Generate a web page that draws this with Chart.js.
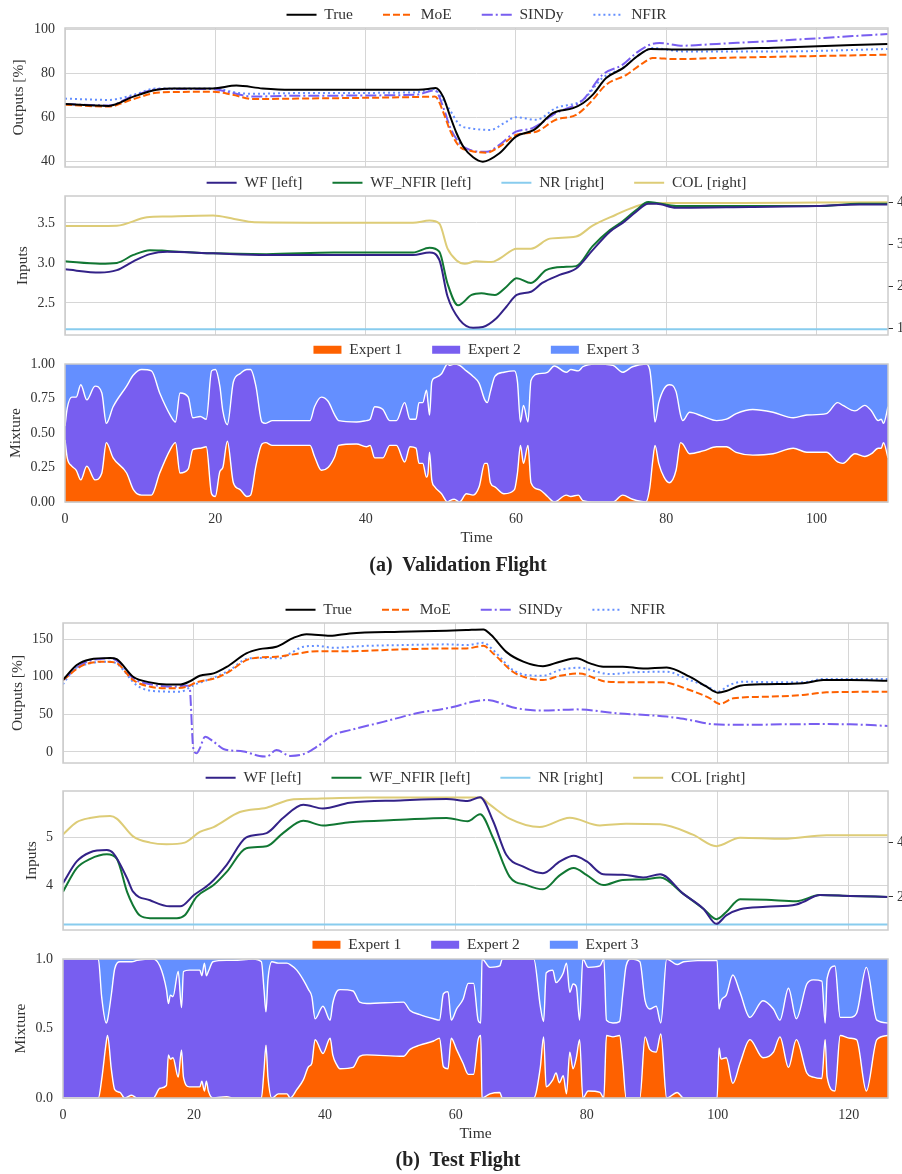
<!DOCTYPE html>
<html>
<head>
<meta charset="utf-8">
<script src="https://cdn.jsdelivr.net/npm/chart.js@4.4.1/dist/chart.umd.min.js"></script>
<style>
html, body { margin: 0; padding: 0; background: #fff; }
body { width: 902px; height: 1174px; position: relative; overflow: hidden; }
canvas { position: absolute; left: 0; }
.cap { position: absolute; left: 0; width: 916px; text-align: center; line-height: 24px;
       font: bold 20px "Liberation Serif", serif; color: #222; }
</style>
</head>
<body>
<canvas id="c1"></canvas>
<canvas id="c2"></canvas>
<canvas id="c3"></canvas>
<canvas id="c4"></canvas>
<canvas id="c5"></canvas>
<canvas id="c6"></canvas>
<div class="cap" style="top:553px">(a)&nbsp; Validation Flight</div>
<div class="cap" style="top:1148px">(b)&nbsp; Test Flight</div>
<script>
// ---- (a) validation flight: outputs ----
const tTrueA = [0, 5.8, 9.1, 12.2, 14.4, 19.7, 22.8, 26.3, 30, 46, 48.3, 49.3, 50.3, 51.2, 52.1, 53, 54.3, 55.6, 57.8, 60, 62.4, 64.9, 67.6, 68.9, 70.2, 72, 74.3, 76.1, 77.9, 82.2, 95.5, 109.5];
const trueA  = [66.1, 65.3, 69.5, 72.6, 73.2, 73.2, 74.5, 73.2, 72.6, 72.6, 73, 73.4, 69.5, 61, 52.9, 46.8, 42, 40, 43.8, 51.4, 54.4, 62, 64.3, 66.5, 70.3, 77.9, 82.5, 87.7, 91.1, 90.8, 91.8, 93.4];
const tMoeA = [0, 5.8, 9.1, 12.6, 19.7, 22.3, 25, 31, 46.6, 49.2, 50.6, 51.2, 52.5, 53.9, 56.1, 57.8, 60, 62.7, 65.3, 68, 69.8, 72, 74.7, 76.9, 78.2, 81.3, 86.7, 109.5];
const moeA  = [65.8, 65, 68.4, 71.4, 71.7, 70.3, 68.4, 68.6, 69.3, 69.5, 60, 54.4, 46.8, 45, 44.1, 46.8, 52.1, 53.6, 59, 61.2, 66.5, 74.9, 79.4, 84.7, 87, 86.5, 87, 88.5];
const tSindyA = [0, 5.8, 9.1, 12.6, 19.7, 22.3, 25, 30, 46.6, 49.2, 50.6, 51.2, 52.5, 53.9, 56.1, 57.8, 60, 62.2, 65.3, 68.9, 71.5, 74.2, 76, 77.8, 79.1, 82.2, 86.7, 95.5, 109.5];
const sindyA  = [66.1, 65.5, 69.8, 72.9, 72.9, 71.1, 69.5, 69.9, 70.3, 72.3, 62, 55.9, 48.4, 45.3, 44.5, 47.6, 53.6, 55.2, 62, 68, 79.4, 84, 89.3, 93, 93.8, 92.6, 93.4, 95, 97.9];
const tNfirA = [0, 5.8, 9.1, 12.2, 19.7, 23.2, 25, 31, 46.6, 49, 50.9, 51.2, 52.5, 53.9, 56.6, 58.4, 60, 62.7, 65.3, 68.9, 71.5, 74.2, 76.4, 78.2, 82.2, 95.5, 109.5];
const nfirA  = [68.6, 68, 70.3, 73.2, 73.2, 71.1, 70.8, 71.1, 71.4, 72.9, 65, 63.5, 56.7, 55.2, 54.4, 57.5, 60.2, 59, 64.3, 68, 77.9, 82.5, 88.5, 91.5, 90, 90, 91.1];

// ---- (a) validation flight: inputs ----
const tWfA = [0, 4.65, 6.9, 9.1, 11.3, 13.6, 19.7, 26.8, 46.3, 48.5, 49.8, 50.9, 52.5, 54.3, 55.6, 57.4, 58.7, 60.1, 62, 63.5, 65.8, 68, 70.2, 72.5, 74.2, 76, 77.6, 78.7, 81.3, 91.1, 100, 105.7, 109.5];
const wfA  = [2.92, 2.88, 2.91, 3.02, 3.11, 3.14, 3.12, 3.10, 3.10, 3.13, 3.04, 2.58, 2.29, 2.19, 2.20, 2.31, 2.45, 2.60, 2.64, 2.75, 2.85, 2.93, 3.16, 3.39, 3.50, 3.64, 3.74, 3.74, 3.69, 3.70, 3.71, 3.73, 3.73];
const tWfNfirA = [0, 4.65, 6.9, 9.1, 11.3, 13.6, 19.7, 26.8, 35.7, 46.3, 48.5, 49.8, 50.9, 52.3, 54.1, 55.4, 57.2, 58.7, 60.1, 62, 64, 66.3, 68, 70.2, 72.5, 74.2, 76, 77.6, 78.7, 81.3, 91.1, 100, 105.7, 109.5];
const wfNfirA  = [3.02, 2.99, 3.00, 3.10, 3.16, 3.15, 3.12, 3.11, 3.13, 3.13, 3.19, 3.14, 2.74, 2.47, 2.60, 2.62, 2.60, 2.70, 2.81, 2.75, 2.91, 2.95, 2.96, 3.21, 3.41, 3.52, 3.66, 3.76, 3.75, 3.71, 3.71, 3.71, 3.74, 3.74];
const tNrA = [0, 109.5];
const nrA  = [0.98, 0.98];
const tColA = [0, 6.9, 10.9, 13.6, 19.7, 22.5, 25.2, 35.7, 46.3, 48.5, 49.8, 50.9, 52.1, 53.2, 54.7, 56.7, 57.8, 60.1, 62, 64.5, 68, 70.2, 73.3, 75.1, 77.3, 80, 90, 100, 109.5];
const colA  = [3.44, 3.45, 3.65, 3.67, 3.69, 3.61, 3.53, 3.52, 3.52, 3.57, 3.50, 2.90, 2.62, 2.54, 2.60, 2.58, 2.66, 2.90, 2.90, 3.14, 3.19, 3.45, 3.71, 3.85, 3.97, 3.99, 3.99, 4.0, 4.01];

// ---- (a) validation flight: mixture weights ----
const mixTA = [
  0, 0.3, 0.9, 1.5, 2.1, 2.9, 4.0, 4.9, 5.5, 6.4,
  8.2, 9.1, 10.2, 11.5, 12.6, 14.0, 14.7, 15.3, 16.4, 17.0,
  18.0, 18.8, 19.5, 20.0, 20.6, 21.0, 21.6, 22.4, 23.3, 24.2,
  24.7, 25.4, 26.2, 26.7, 27.6, 32.6, 33.2, 34.1, 35.0, 35.9,
  36.4, 38.8, 40.1, 40.6, 41.2, 42.3, 43.2, 44.1, 45.2, 45.9,
  46.7, 47.1, 47.6, 48.1, 48.3, 48.5, 48.8, 49.2, 50.1, 50.9,
  51.2, 51.8, 52.5, 53.4, 54.3, 55.1, 55.85, 56.2, 56.6, 57.2,
  58.4, 59.8, 60.2, 60.6, 61.0, 61.6, 62.0, 63.1, 64.2, 65.1,
  66.7, 67.3, 68.3, 68.9, 70.5, 72.9, 74.2, 75.5, 77.3, 77.8,
  78.2, 78.5, 79.0, 79.7, 80.4, 81.3, 81.9, 82.2, 83.1, 84.9,
  86.7, 88.0, 89.3, 91.5, 94.2, 96.9, 98.7, 101.3, 102.8, 103.5,
  105.1, 106.4, 107.3, 108.2, 108.6, 108.9, 109.5
];
const exp1A = [
  0.45, 0.32, 0.26, 0.23, 0.16, 0.26, 0.16, 0.21, 0.43, 0.32,
  0.21, 0.09, 0.05, 0.05, 0.21, 0.38, 0.43, 0.21, 0.24, 0.38,
  0.39, 0.40, 0.06, 0.04, 0.22, 0.25, 0.44, 0.14, 0.09, 0.04,
  0.05, 0.26, 0.42, 0.43, 0.41, 0.41, 0.33, 0.23, 0.25, 0.33,
  0.41, 0.42, 0.40, 0.41, 0.32, 0.32, 0.41, 0.41, 0.29, 0.40,
  0.39, 0.28, 0.28, 0.18, 0.21, 0.36, 0.16, 0.11, 0.06, 0.00,
  0.01, 0.02, 0.00, 0.06, 0.05, 0.11, 0.28, 0.28, 0.14, 0.11,
  0.06, 0.09, 0.21, 0.41, 0.28, 0.41, 0.14, 0.09, 0.04, 0.00,
  0.05, 0.04, 0.05, 0.01, 0.00, 0.00, 0.05, 0.02, 0.00, 0.10,
  0.30, 0.41, 0.28, 0.18, 0.14, 0.23, 0.43, 0.42, 0.35, 0.37,
  0.40, 0.40, 0.36, 0.34, 0.35, 0.39, 0.36, 0.36, 0.29, 0.28,
  0.35, 0.33, 0.35, 0.39, 0.39, 0.43, 0.32
];
const exp3A = [
  0.45, 0.32, 0.24, 0.24, 0.15, 0.26, 0.16, 0.21, 0.43, 0.31,
  0.16, 0.08, 0.04, 0.05, 0.21, 0.37, 0.42, 0.21, 0.24, 0.39,
  0.38, 0.40, 0.05, 0.04, 0.16, 0.34, 0.44, 0.13, 0.07, 0.04,
  0.04, 0.16, 0.42, 0.43, 0.41, 0.41, 0.31, 0.24, 0.27, 0.37,
  0.41, 0.42, 0.41, 0.40, 0.31, 0.33, 0.41, 0.41, 0.28, 0.40,
  0.40, 0.28, 0.28, 0.19, 0.28, 0.37, 0.13, 0.10, 0.07, 0.00,
  0.01, 0.00, 0.01, 0.05, 0.09, 0.14, 0.26, 0.28, 0.20, 0.09,
  0.06, 0.05, 0.13, 0.42, 0.30, 0.42, 0.12, 0.07, 0.06, 0.015,
  0.06, 0.04, 0.05, 0.02, 0.00, 0.01, 0.06, 0.02, 0.00, 0.04,
  0.24, 0.42, 0.28, 0.18, 0.15, 0.20, 0.37, 0.41, 0.35, 0.38,
  0.41, 0.40, 0.36, 0.33, 0.35, 0.39, 0.37, 0.36, 0.28, 0.30,
  0.34, 0.30, 0.34, 0.41, 0.40, 0.43, 0.31
];

// ---- (b) test flight: outputs ----
const tTrueB = [0, 2.1, 4.1, 7.2, 8.2, 10.7, 13.3, 15.8, 17.9, 19.4, 20.9, 23, 25, 28, 30, 32.6, 35.2, 37.2, 40.8, 43.8, 51.5, 58.6, 61.6, 64.2, 65.4, 67.7, 70.3, 73.3, 75.9, 78.4, 80.5, 82.5, 85.5, 88.6, 92.2, 95.7, 98.3, 100, 101.3, 103.4, 107.4, 113, 116.1, 120.2, 126];
const trueB  = [95.6, 115.5, 123, 125, 123.3, 100, 92.5, 89.6, 89.6, 94, 101.3, 104.4, 113, 131, 136.7, 139.8, 151.7, 156.6, 154.4, 157.5, 159.7, 161, 162, 162.8, 155.3, 133, 120, 114, 120, 124.4, 117.7, 113.3, 113.3, 111, 112.4, 100, 86.7, 78.8, 81, 88, 90, 91.2, 95.6, 95.6, 94.7];
const tMoeB = [0, 3.1, 6.7, 8.2, 10.7, 13.3, 16.3, 18.9, 20.4, 23.5, 25.5, 28, 30, 32.6, 35.2, 38.8, 43.8, 51.5, 58.6, 61.6, 64.2, 65.7, 68.7, 70.8, 73.3, 75.9, 78.9, 81, 83, 87.6, 91.6, 95.7, 98.8, 100.3, 102.4, 107.4, 113, 116.6, 126];
const moeB  = [95.6, 115.5, 120, 118, 95.6, 86.7, 84.5, 86.7, 92.5, 98.7, 107.5, 122, 125.7, 126.5, 129.7, 134, 134, 136.3, 137.6, 137.6, 141, 131, 106.6, 98.7, 95.6, 101.3, 104.4, 98.7, 93.3, 92.5, 92.5, 82.3, 71.3, 63.7, 71.3, 73.4, 75.7, 79.2, 80];
const tSindyB = [0, 3.1, 7.2, 8.7, 10.7, 13.3, 16.8, 18.6, 19.3, 19.9, 20.4, 20.9, 21.7, 23, 24.5, 27.6, 30, 31.1, 32.6, 34.7, 36.7, 38.8, 41.3, 43.8, 48.9, 54, 58.6, 64.7, 69.3, 73.3, 78.4, 84.5, 92.2, 95.7, 99.3, 104.9, 110, 115.1, 120.2, 126];
const sindyB  = [95.6, 117.7, 124.4, 118, 98, 90, 86.7, 88, 88, 4.9, -1.8, 4.9, 20.3, 13.6, 4, 0.5, -5.3, -6, 2.6, -5.3, -3, 7, 22.6, 29, 40, 51.4, 58, 69, 58, 55, 56.6, 51.4, 47, 42.5, 36.9, 36, 36.7, 37, 36.7, 34.6];
const tNfirB = [0, 1.6, 4.1, 7.2, 8.4, 11.2, 13.8, 17.9, 20, 23, 25.5, 28, 30, 33.1, 34.7, 36.7, 38.8, 41.3, 46.4, 51.5, 58.6, 61.6, 64.2, 65.7, 68.7, 70.8, 73.3, 75.9, 78.9, 81.5, 83.5, 87, 92.2, 95.7, 98.5, 100, 101.8, 103.9, 110, 113, 116.1, 126];
const nfirB  = [89.8, 109, 117.7, 120, 116, 89, 81, 80, 89, 98.7, 109, 123.5, 125, 124.4, 131, 139.8, 141, 138.5, 141, 142, 143, 142, 145, 135.4, 109, 102.2, 101.3, 109, 112, 106.6, 103.5, 105.8, 106.6, 95.6, 86.7, 80, 89, 93.3, 92.5, 92.5, 97, 97];

// ---- (b) test flight: inputs ----
const tWfB = [0, 2.1, 4.1, 6.7, 7.7, 9.8, 10.7, 13.3, 16.3, 17.9, 20, 22.5, 25, 28, 31.1, 33.6, 36.7, 39.7, 43.8, 51.5, 58.6, 61.8, 63.7, 65.7, 67.7, 70.3, 73.3, 75.9, 78, 80, 82.5, 85.5, 88.6, 91.2, 94.7, 97.8, 99.8, 101.3, 103.4, 107.4, 112, 113, 115.6, 120.2, 126];
const wfB  = [4.04, 4.50, 4.69, 4.74, 4.67, 4.14, 3.86, 3.68, 3.55, 3.55, 3.79, 4.04, 4.43, 5.01, 5.10, 5.42, 5.70, 5.62, 5.74, 5.79, 5.82, 5.78, 5.86, 5.35, 4.64, 4.39, 4.25, 4.50, 4.62, 4.50, 4.23, 4.22, 4.16, 4.23, 3.82, 3.50, 3.18, 3.36, 3.49, 3.54, 3.59, 3.64, 3.79, 3.77, 3.75];
const tWfNfirB = [0, 2.1, 4.1, 6.7, 8.2, 9.8, 10.7, 11.7, 13.3, 17.4, 18.6, 20.4, 23, 25, 28, 31.1, 33.6, 36.7, 39.7, 43.8, 51.5, 58.6, 61.8, 63.7, 65.7, 68.2, 70.8, 73.3, 75.9, 78, 80, 82.5, 85.5, 88.6, 91.2, 94.7, 97.8, 99.8, 101.3, 103.4, 107.4, 112, 115.6, 120.2, 126];
const wfNfirB  = [3.86, 4.36, 4.55, 4.65, 4.56, 3.85, 3.57, 3.36, 3.30, 3.30, 3.36, 3.75, 4.00, 4.28, 4.78, 4.82, 5.10, 5.36, 5.26, 5.33, 5.38, 5.42, 5.35, 5.50, 4.99, 4.18, 4.00, 3.91, 4.21, 4.36, 4.21, 4.00, 4.11, 4.12, 4.16, 3.82, 3.50, 3.28, 3.43, 3.70, 3.69, 3.66, 3.79, 3.77, 3.75];
const tNrB = [0, 126];
const nrB  = [0.99, 0.99];
const tColB = [0, 2.1, 4.1, 7.2, 8.2, 10.7, 13.3, 15.8, 18.6, 20.9, 23, 27, 31.1, 35.2, 38.8, 46.4, 63.7, 65.2, 68.2, 72.8, 77.4, 82, 86, 91.2, 96.2, 99.8, 103.4, 110, 116.6, 126];
const colB  = [4.29, 4.74, 4.89, 4.96, 4.87, 4.22, 3.99, 3.93, 3.99, 4.38, 4.56, 5.11, 5.27, 5.58, 5.60, 5.64, 5.64, 5.38, 4.87, 4.56, 4.90, 4.62, 4.68, 4.66, 4.28, 3.86, 4.17, 4.13, 4.26, 4.26];

// ---- (b) test flight: mixture weights ----
const mixTB = [
  0, 5.4, 5.9, 6.6, 6.8, 7.4, 7.9, 8.7, 9.4, 10.5,
  11.3, 13.8, 14.8, 15.8, 16.1, 16.4, 16.8, 17.6, 18.1, 18.4,
  19.3, 20.9, 21.2, 21.6, 21.9, 22.2, 22.9, 25.0, 26.0, 29.0,
  30.3, 30.7, 31.0, 31.3, 31.9, 32.9, 34.2, 34.7, 35.7, 36.7,
  37.5, 38.0, 38.5, 39.7, 40.8, 41.2, 41.8, 42.3, 44.3, 45.3,
  46.4, 52.0, 53.0, 54.5, 56.6, 57.5, 58.1, 58.8, 59.3, 60.1,
  61.1, 61.9, 62.7, 63.4, 63.8, 64.0, 65.2, 66.7, 67.1, 71.9,
  72.9, 73.4, 73.8, 74.8, 75.3, 75.8, 76.4, 76.9, 77.4, 77.9,
  78.4, 78.9, 79.4, 80.2, 82.0, 82.6, 83.0, 84.0, 85.0, 85.5,
  86.0, 86.8, 88.1, 88.9, 89.6, 90.6, 91.3, 92.2, 93.8, 94.8,
  99.9, 100.2, 100.5, 101.3, 102.3, 103.4, 104.9, 106.9, 108.5, 109.5,
  110.8, 112.0, 113.6, 114.6, 115.9, 116.4, 116.7, 117.9, 118.7, 120.2,
  121.2, 122.7, 124.3, 126
];
const exp1B = [
  0, 0, 0.13, 0.40, 0.45, 0.20, 0.06, 0.04, 0, 0.02,
  0, 0, 0.07, 0.09, 0.31, 0.28, 0.29, 0.15, 0.345, 0.15,
  0.08, 0.08, 0.12, 0.05, 0.12, 0.05, 0, 0.01, 0, 0,
  0, 0.20, 0.38, 0.15, 0, 0.03, 0.03, 0, 0.06, 0.13,
  0.225, 0.25, 0.42, 0.32, 0.43, 0.31, 0.24, 0.21, 0.22, 0.30,
  0.31, 0.30, 0.35, 0.38, 0.41, 0.43, 0.225, 0.21, 0.43, 0.35,
  0.25, 0.17, 0.17, 0.42, 0.45, 0, 0.03, 0.04, 0, 0,
  0.22, 0.44, 0.08, 0.13, 0.18, 0.11, 0.16, 0.03, 0.33, 0.21,
  0.29, 0.42, 0, 0.05, 0.04, 0, 0.45, 0.44, 0.45, 0.25,
  0, 0, 0, 0.44, 0.35, 0.33, 0.46, 0, 0.04, 0,
  0, 0.36, 0.28, 0.29, 0.105, 0.25, 0.42, 0.29, 0.33, 0.44,
  0.22, 0.42, 0.18, 0.15, 0.14, 0.42, 0.15, 0.05, 0.45, 0.43,
  0.42, 0.05, 0.42, 0.45
];
const exp3B = [
  0, 0, 0.27, 0.46, 0.44, 0.25, 0.07, 0.02, 0.02, 0.02,
  0.01, 0, 0.05, 0.22, 0.32, 0.26, 0.27, 0.09, 0.35, 0.09,
  0.08, 0.08, 0.12, 0.03, 0.12, 0.09, 0.02, 0.01, 0.01, 0,
  0.02, 0.22, 0.38, 0.15, 0.02, 0.03, 0.03, 0.04, 0.08, 0.15,
  0.22, 0.27, 0.43, 0.34, 0.44, 0.32, 0.235, 0.22, 0.23, 0.31,
  0.32, 0.31, 0.37, 0.40, 0.43, 0.44, 0.25, 0.235, 0.44, 0.36,
  0.29, 0.175, 0.175, 0.44, 0.46, 0, 0.06, 0.05, 0, 0,
  0.34, 0.45, 0.10, 0.08, 0.17, 0.15, 0.10, 0.03, 0.24, 0.18,
  0.20, 0.44, 0, 0.06, 0.05, 0, 0.44, 0.46, 0.45, 0.25,
  0.05, 0, 0.02, 0.30, 0.36, 0.34, 0.46, 0, 0.04, 0.02,
  0.01, 0.36, 0.30, 0.26, 0.115, 0.24, 0.42, 0.30, 0.36, 0.44,
  0.21, 0.43, 0.18, 0.15, 0.16, 0.46, 0.14, 0.05, 0.42, 0.42,
  0.39, 0.06, 0.44, 0.46
];

// axis ticks
const xTicksA = [0, 20, 40, 60, 80, 100];
const xTicksB = [0, 20, 40, 60, 80, 100, 120];
const outTicksA = [40, 60, 80, 100];
const inTicksA = [2.5, 3.0, 3.5];
const inRightTicksA = [1, 2, 3, 4];
const mixTicksA = [0, 0.25, 0.5, 0.75, 1];
const outTicksB = [0, 50, 100, 150];
const inTicksB = [4, 5];
const inRightTicksB = [2, 4];
const mixTicksB = [0, 0.5, 1];

const orange = '#FE6100', purple = '#785EF0', blue = '#648FFF';
const navy = '#332288', green = '#117733', sky = '#88CCEE', sand = '#DDCC77';
const ink = '#333333';
const gridCol = '#d6d6d6';
const serif = '"Liberation Serif", "Times New Roman", serif';

function pts(t, v) { return t.map((x, i) => ({x: x, y: v[i]})); }
function setTicks(vals) { return s => { s.ticks = vals.map(v => ({value: v})); }; }

function line(label, t, v, color, dash, axis) {
  return {label, data: pts(t, v), borderColor: color, backgroundColor: color, borderWidth: 2,
    borderDash: dash, pointRadius: 0, cubicInterpolationMode: 'monotone', fill: false, yAxisID: axis || 'y'};
}

function mixture(t, e1, e3) {
  const upper = e3.map(v => 1 - v);   // expert1 + expert2
  const ones = t.map(() => 1);
  const base = {pointRadius: 0, cubicInterpolationMode: 'monotone', yAxisID: 'y'};
  return [
    Object.assign({label: 'Expert 1', data: pts(t, e1), backgroundColor: orange, borderColor: '#fff', borderWidth: 1.4, fill: 'origin'}, base),
    Object.assign({label: 'Expert 2', data: pts(t, upper), backgroundColor: purple, borderColor: '#fff', borderWidth: 1.4, fill: '-1'}, base),
    Object.assign({label: 'Expert 3', data: pts(t, ones), backgroundColor: blue, borderColor: blue, borderWidth: 0, fill: '-1'}, base)
  ];
}

// legend entries for the line panels: keep each dataset's dash pattern
function lineLegend(chart) {
  return chart.data.datasets.map((d, i) => ({
    text: d.label, datasetIndex: i, hidden: false, fontColor: ink,
    strokeStyle: d.borderColor, fillStyle: d.borderColor, lineWidth: d.borderWidth,
    lineDash: d.borderDash, lineCap: 'butt', pointStyle: 'line'
  }));
}

// light frame round the plot area
const framePlugin = {
  id: 'frame',
  afterDatasetsDraw(chart) {
    const a = chart.chartArea, ctx = chart.ctx;
    ctx.save();
    ctx.strokeStyle = '#cccccc';
    ctx.lineWidth = 1.5;
    ctx.strokeRect(a.left, a.top, a.right - a.left, a.bottom - a.top);
    ctx.restore();
  }
};

function panel(p) {
  const cv = document.getElementById(p.id);
  const top = Math.round(p.legendY - 37.75);
  const below = p.xLabels ? 48 : 20;
  cv.width = 902;
  cv.height = p.plotBottom - top + below;
  cv.style.top = top + 'px';
  const tickFont = {family: serif, size: 14};
  const textFont = {family: serif, size: 15.5};

  const scales = {
    x: {
      type: 'linear', min: 0, max: p.xMax, afterBuildTicks: setTicks(p.xTicks),
      grid: {color: gridCol, lineWidth: 1, drawTicks: false}, border: {display: false},
      ticks: {display: !!p.xLabels, padding: 9, color: ink, font: tickFont, callback: v => String(v)},
      title: {display: !!p.xLabels, text: 'Time', color: ink, font: textFont, padding: {top: 0, bottom: 2.7}},
      afterFit: s => { s.height = p.xLabels ? 48 : 0; }
    },
    y: {
      type: 'linear', position: 'left', min: p.y.min, max: p.y.max, afterBuildTicks: setTicks(p.y.ticks),
      grid: {color: gridCol, lineWidth: 1, drawTicks: false}, border: {display: false},
      ticks: {padding: 10, color: ink, font: tickFont, callback: p.y.fmt},
      title: {display: true, text: p.yTitle, color: ink, font: textFont, padding: {top: p.titleX - 9.3, bottom: 0}},
      afterFit: s => { s.width = p.left; }
    }
  };
  if (p.y2) {
    scales.y2 = {
      type: 'linear', position: 'right', min: p.y2.min, max: p.y2.max, afterBuildTicks: setTicks(p.y2.ticks),
      grid: {drawOnChartArea: false, drawTicks: true, tickLength: 5, color: ink, tickColor: ink, tickWidth: 1},
      border: {display: false},
      ticks: {padding: 4, color: ink, font: tickFont, callback: v => String(v)},
      afterFit: s => { s.width = 902 - 888; }
    };
  }

  const labels = {color: ink, font: textFont, padding: 30};
  if (p.fillLegend) {
    Object.assign(labels, {boxWidth: 28, boxHeight: 8,
      generateLabels: ch => Chart.defaults.plugins.legend.labels.generateLabels(ch).map(l => Object.assign(l, {lineWidth: 0}))});
  } else {
    Object.assign(labels, {usePointStyle: true, pointStyle: 'line', pointStyleWidth: 30, boxHeight: 8,
      generateLabels: lineLegend});
  }

  new Chart(cv, {
    type: 'line',
    data: {datasets: p.datasets},
    options: {
      responsive: false, animation: false, events: [],
      layout: {autoPadding: false, padding: {left: 0, top: 0, right: p.y2 ? 0 : 14, bottom: p.xLabels ? 0 : 20}},
      plugins: {
        legend: {position: 'top', fullSize: false, maxHeight: p.plotTop - top, labels},
        tooltip: {enabled: false}
      },
      scales
    },
    plugins: [framePlugin]
  });
}

const fmtInt = v => String(v);

panel({id: 'c1', legendY: 15, plotTop: 28, plotBottom: 167, left: 65, xMax: 109.5, xTicks: xTicksA,
  y: {min: 37.6, max: 100.6, ticks: outTicksA, fmt: fmtInt}, yTitle: 'Outputs [%]', titleX: 19,
  datasets: [
    line('True', tTrueA, trueA, '#000000', []),
    line('MoE', tMoeA, moeA, orange, [7, 3]),
    line('SINDy', tSindyA, sindyA, purple, [11, 3, 2, 3]),
    line('NFIR', tNfirA, nfirA, blue, [2, 3])
  ]});

panel({id: 'c2', legendY: 182.3, plotTop: 196, plotBottom: 335, left: 65, xMax: 109.5, xTicks: xTicksA,
  y: {min: 2.10, max: 3.836, ticks: inTicksA, fmt: v => v.toFixed(1)},
  y2: {min: 0.84, max: 4.157, ticks: inRightTicksA}, yTitle: 'Inputs', titleX: 23,
  datasets: [
    line('WF [left]', tWfA, wfA, navy, []),
    line('WF_NFIR [left]', tWfNfirA, wfNfirA, green, []),
    line('NR [right]', tNrA, nrA, sky, [], 'y2'),
    line('COL [right]', tColA, colA, sand, [], 'y2')
  ]});

panel({id: 'c3', legendY: 350, plotTop: 364, plotBottom: 502, left: 65, xMax: 109.5, xTicks: xTicksA, xLabels: true,
  y: {min: 0, max: 1, ticks: mixTicksA, fmt: v => v.toFixed(2)}, yTitle: 'Mixture', titleX: 15.5, fillLegend: true,
  datasets: mixture(mixTA, exp1A, exp3A)});

panel({id: 'c4', legendY: 610, plotTop: 623, plotBottom: 763, left: 63, xMax: 126, xTicks: xTicksB,
  y: {min: -14.7, max: 171.4, ticks: outTicksB, fmt: fmtInt}, yTitle: 'Outputs [%]', titleX: 17.5,
  datasets: [
    line('True', tTrueB, trueB, '#000000', []),
    line('MoE', tMoeB, moeB, orange, [7, 3]),
    line('SINDy', tSindyB, sindyB, purple, [11, 3, 2, 3]),
    line('NFIR', tNfirB, nfirB, blue, [2, 3])
  ]});

panel({id: 'c5', legendY: 777.5, plotTop: 791, plotBottom: 930, left: 63, xMax: 126, xTicks: xTicksB,
  y: {min: 3.05, max: 5.99, ticks: inTicksB, fmt: fmtInt},
  y2: {min: 0.79, max: 5.88, ticks: inRightTicksB}, yTitle: 'Inputs', titleX: 31.5,
  datasets: [
    line('WF [left]', tWfB, wfB, navy, []),
    line('WF_NFIR [left]', tWfNfirB, wfNfirB, green, []),
    line('NR [right]', tNrB, nrB, sky, [], 'y2'),
    line('COL [right]', tColB, colB, sand, [], 'y2')
  ]});

panel({id: 'c6', legendY: 945, plotTop: 959, plotBottom: 1098, left: 63, xMax: 126, xTicks: xTicksB, xLabels: true,
  y: {min: 0, max: 1, ticks: mixTicksB, fmt: v => v.toFixed(1)}, yTitle: 'Mixture', titleX: 20.5, fillLegend: true,
  datasets: mixture(mixTB, exp1B, exp3B)});
</script>
</body>
</html>
